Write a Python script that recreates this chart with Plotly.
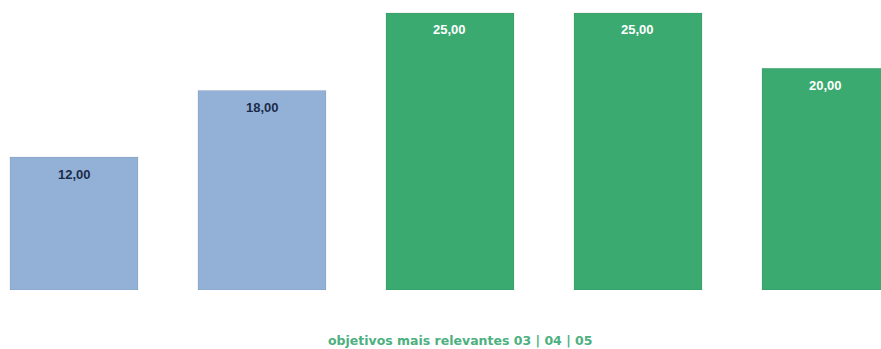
import plotly.graph_objects as go

categories = ["A", "B", "C", "D", "E"]
values = [12, 18, 25, 25, 20]
bar_colors = ["#93B1D7", "#93B1D7", "#3BAA70", "#3BAA70", "#3BAA70"]
label_colors = ["#1C2B4A", "#1C2B4A", "#FFFFFF", "#FFFFFF", "#FFFFFF"]
title_text = "objetivos mais relevantes 03 | 04 | 05"

fig = go.Figure()
fig.add_trace(go.Bar(
    x=list(range(len(categories))),
    y=values,
    marker=dict(color=bar_colors, line=dict(color="rgba(0,0,0,0.08)", width=1)),
    hoverinfo="skip",
))

for i, v in enumerate(values):
    fig.add_annotation(
        x=i, y=v, xref="x", yref="y",
        text="<b>" + f"{v:.2f}".replace(".", ",") + "</b>",
        showarrow=False, yshift=-17,
        font=dict(family="Liberation Sans", size=13, color=label_colors[i]),
    )

fig.add_annotation(
    xref="paper", yref="paper",
    x=460 / 881, y=-(340 - 290) / 290,
    xanchor="center", yanchor="middle",
    text="<b>" + title_text + "</b>", showarrow=False,
    font=dict(family="DejaVu Sans", size=12.5, color="#4DB07F"),
)

fig.update_layout(
    width=881, height=349,
    margin=dict(l=0, r=0, t=0, b=59),
    paper_bgcolor="white", plot_bgcolor="white",
    bargap=0.319,
    showlegend=False,
    xaxis=dict(range=[-0.3936, 4.2926], visible=False, fixedrange=True),
    yaxis=dict(range=[0, 26.17], visible=False, fixedrange=True),
)

fig.write_html("out.html", config={"displayModeBar": False})
